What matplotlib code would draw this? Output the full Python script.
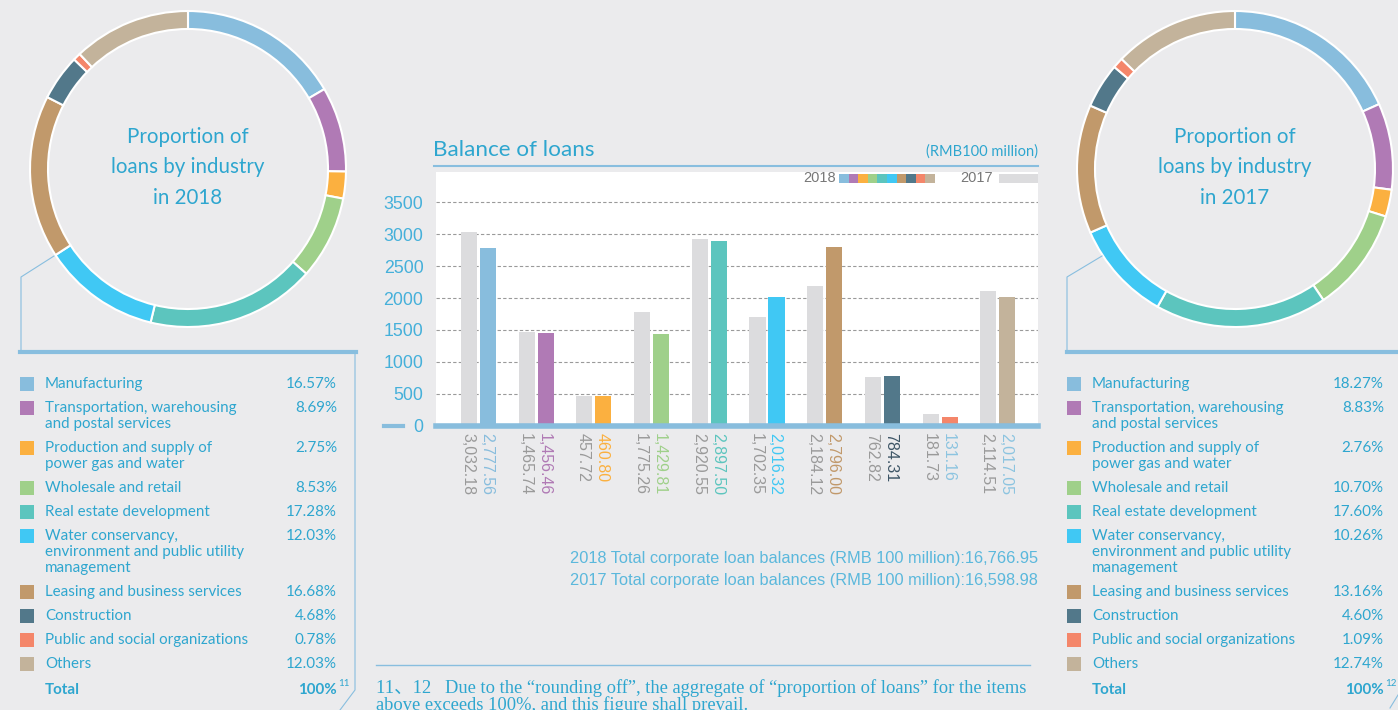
import matplotlib
matplotlib.use("Agg")
import matplotlib.pyplot as plt
from matplotlib.patches import Rectangle
import numpy as np

# ---- data ----
industries = ["Manufacturing",
              "Transportation, warehousing\nand postal services",
              "Production and supply of\npower gas and water",
              "Wholesale and retail",
              "Real estate development",
              "Water conservancy,\nenvironment and public utility\nmanagement",
              "Leasing and business services",
              "Construction",
              "Public and social organizations",
              "Others"]
share_2018 = [16.57, 8.69, 2.75, 8.53, 17.28, 12.03, 16.68, 4.68, 0.78, 12.03]
share_2017 = [18.27, 8.83, 2.76, 10.70, 17.60, 10.26, 13.16, 4.60, 1.09, 12.74]
loans_2018 = [2777.56, 1456.46, 460.80, 1429.81, 2897.50, 2016.32, 2796.00, 784.31, 131.16, 2017.05]
loans_2017 = [3032.18, 1465.74, 457.72, 1775.26, 2920.55, 1702.35, 2184.12, 762.82, 181.73, 2114.51]
total_2018 = "16,766.95"
total_2017 = "16,598.98"
yticks = [0, 500, 1000, 1500, 2000, 2500, 3000, 3500]

colors = ["#88BDDD", "#B07AB5", "#FBB040", "#9FD08A", "#5CC5BE",
          "#40C8F4", "#C1996B", "#52788A", "#F4866A", "#C3B39B"]
label_colors_2018 = ["#88BDDD", "#B07AB5", "#FBB040", "#9FD08A", "#5CC5BE",
                     "#40C8F4", "#C1996B", "#3D5566", "#8CC4E0", "#8CC4E0"]
gray17 = "#DCDCDE"
bg = "#EBEBED"
blue_txt = "#2EA6CF"
line_blue = "#88BEDF"

plt.rcParams['font.family'] = ['Lato', 'DejaVu Sans']

W, H = 1398, 710
fig = plt.figure(figsize=(W / 100, H / 100), dpi=100, facecolor=bg)


def fx(x):
    return x / W


def fy(y):
    return 1 - y / H


# ---- bar chart ----
y0, ytop = 425.7, 172
ax = fig.add_axes([fx(436), fy(y0), (1038 - 436) / W, (y0 - ytop) / H])
ax.set_facecolor("white")
step = 57.7
xc0 = 478.5
ax.set_xlim(-(xc0 - 436) / step, (1038 - xc0) / step)
ax.set_ylim(0, (y0 - ytop) / 63.8 * 1000)
x = np.arange(len(loans_2018))
off, bw = 0.165, 0.28
ax.bar(x - off, loans_2017, width=bw, color=gray17, zorder=2)
ax.bar(x + off, loans_2018, width=bw, color=colors, zorder=2)
ax.set_yticks(yticks)
ax.set_yticklabels([str(v) for v in yticks], family='Liberation Sans')
ax.tick_params(axis='y', length=0, pad=9, labelsize=12.8, labelcolor="#45B0DA")
ax.set_xticks([])
ax.yaxis.grid(True, linestyle=(0, (3, 2)), color="#9A9A9A", lw=0.8)
ax.set_axisbelow(True)
for s in ax.spines.values():
    s.set_visible(False)
ax.axhline(0, color="#88BDDD", lw=4, clip_on=False, zorder=3)

for i in range(len(x)):
    ax.annotate(f"{loans_2017[i]:,.2f}", (x[i] - off, 0), xytext=(-1, -5),
                textcoords='offset points', rotation=270, ha='center', va='top',
                color="#9A9A9A", fontsize=11.5, family='Liberation Sans', annotation_clip=False)
    ax.annotate(f"{loans_2018[i]:,.2f}", (x[i] + off, 0), xytext=(-1, -5),
                textcoords='offset points', rotation=270, ha='center', va='top',
                color=label_colors_2018[i], fontsize=11.5, family='Liberation Sans', annotation_clip=False)

# ---- overlay for texts / lines ----
ov = fig.add_axes([0, 0, 1, 1], zorder=5)
ov.set_xlim(0, W)
ov.set_ylim(H, 0)
ov.axis('off')
ov.patch.set_alpha(0)

ov.text(433, 150, "Balance of loans", fontsize=16.2, color=blue_txt, va='center', ha='left')
ov.text(1038, 152, "(RMB100 million)", fontsize=10.5, color=blue_txt, va='center', ha='right')
ov.plot([434, 1038], [166, 166], color=line_blue, lw=1.5)
ov.plot([384, 403], [426, 426], color="#88BDDD", lw=3)

# legend
ov.text(836, 178.5, "2018", fontsize=10.5, color="#777777", ha='right', va='center',
        family='Liberation Sans')
for k, c in enumerate(colors):
    ov.add_patch(Rectangle((839 + k * 9.6, 174), 9.6, 9, color=c, lw=0))
ov.text(993, 178.5, "2017", fontsize=10.5, color="#777777", ha='right', va='center',
        family='Liberation Sans')
ov.add_patch(Rectangle((999, 174), 39, 9, color=gray17, lw=0))

# totals
tot_font = ['Liberation Sans Narrow', 'Liberation Sans']
ov.text(1038, 558, f"2018 Total corporate loan balances (RMB 100 million):{total_2018}",
        fontsize=11.8, color="#5BB8DC", ha='right', va='center', family=tot_font)
ov.text(1038, 580, f"2017 Total corporate loan balances (RMB 100 million):{total_2017}",
        fontsize=11.8, color="#5BB8DC", ha='right', va='center', family=tot_font)

# footnote
ov.plot([376, 1030], [665, 665], color=line_blue, lw=1)
note_font = ['Liberation Serif', 'Noto Sans CJK SC']
ov.text(376, 688, "11\u300112   Due to the \u201crounding off\u201d, the aggregate of \u201cproportion of loans\u201d for the items",
        fontsize=13.3, color=blue_txt, ha='left', va='center', family=note_font)
ov.text(376, 705, "above exceeds 100%, and this figure shall prevail.",
        fontsize=13.3, color=blue_txt, ha='left', va='center', family=note_font)


# ---- donuts ----
def donut(cx, cy, shares, title):
    r, pad = 158, 4
    a = fig.add_axes([fx(cx - r - pad), fy(cy + r + pad), 2 * (r + pad) / W, 2 * (r + pad) / H])
    a.pie(shares, colors=colors, startangle=90, counterclock=False, radius=1,
          wedgeprops=dict(width=18 / r, edgecolor='white', linewidth=1.5))
    lim = (r + pad) / r
    a.set_xlim(-lim, lim)
    a.set_ylim(-lim, lim)
    a.set_aspect('equal')
    a.text(0, 0.01, title, ha='center', va='center', fontsize=14.8, color=blue_txt,
           linespacing=1.65)


donut(188, 169, share_2018, "Proportion of\nloans by industry\nin 2018")
donut(1235, 169, share_2017, "Proportion of\nloans by industry\nin 2017")


# ---- tables ----
def table(x_sq, x_txt, x_pct, shares, note):
    y = 384
    for name, v, c in zip(industries, shares, colors):
        ov.add_patch(Rectangle((x_sq, y - 7), 14, 14, color=c, lw=0))
        for k, line in enumerate(name.split("\n")):
            ov.text(x_txt, y + 16 * k, line, fontsize=10.9, color=blue_txt, va='center', ha='left')
        ov.text(x_pct, y, f"{v:.2f}%", fontsize=10.9, color=blue_txt, va='center', ha='right')
        y += 24 + 16 * name.count("\n")
    y += 2
    ov.text(x_txt, y, "Total", fontsize=10.9, color=blue_txt, va='center', ha='left', weight='bold')
    ov.text(x_pct, y, "100%", fontsize=10.9, color=blue_txt, va='center', ha='right', weight='bold')
    ov.text(x_pct + 1, y - 6, note, fontsize=7, color=blue_txt, va='center', ha='left')


table(20, 45, 337, share_2018, "11")
table(1067, 1092, 1384, share_2017, "12")

# frames
ov.plot([54, 21, 21], [256, 277, 352], color=line_blue, lw=0.8)
ov.plot([20, 356], [352, 352], color=line_blue, lw=3)
ov.plot([355, 355, 340], [352, 690, 710], color=line_blue, lw=0.8)
ov.plot([1102, 1067, 1067], [256, 277, 352], color=line_blue, lw=0.8)
ov.plot([1067, 1398], [352, 352], color=line_blue, lw=3)
ov.plot([1398, 1390], [695, 708], color=line_blue, lw=0.8)

fig.savefig("out.png", dpi=100, facecolor=bg)
